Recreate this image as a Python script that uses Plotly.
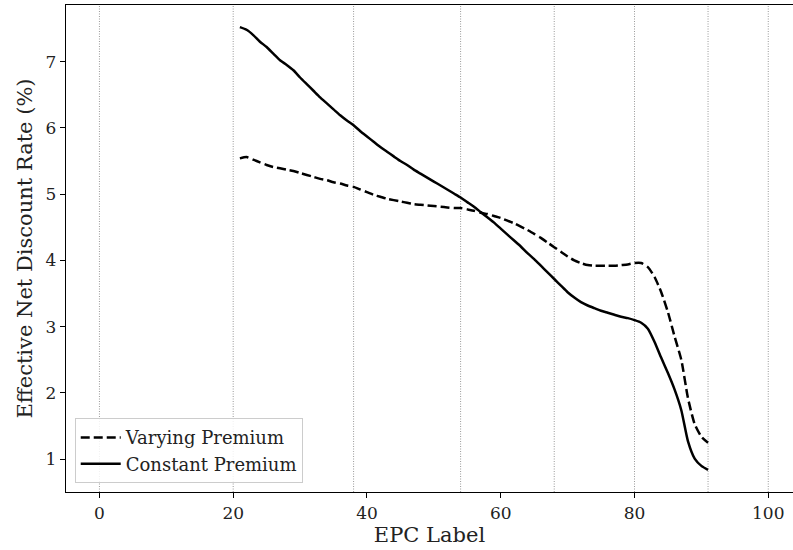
import plotly.graph_objects as go

# EPC score (integer label) for each point on the curves
epc = list(range(21, 92))

# Effective net discount rate (%) under a premium that varies with EPC
varying_premium = [
    5.54, 5.56, 5.52, 5.48, 5.44, 5.41, 5.39, 5.37, 5.35, 5.32,
    5.29, 5.26, 5.23, 5.21, 5.18, 5.16, 5.13, 5.11, 5.07, 5.03,
    4.99, 4.96, 4.93, 4.91, 4.89, 4.87, 4.85, 4.84, 4.83, 4.82,
    4.81, 4.80, 4.79, 4.79, 4.77, 4.75, 4.72, 4.70, 4.67, 4.64,
    4.60, 4.56, 4.51, 4.46, 4.40, 4.34, 4.27, 4.20, 4.13, 4.06,
    4.00, 3.96, 3.93, 3.92, 3.92, 3.92, 3.92, 3.93, 3.94, 3.96,
    3.96, 3.90, 3.75, 3.52, 3.22, 2.85, 2.50, 1.92, 1.53, 1.34,
    1.25,
]

# Effective net discount rate (%) under a constant premium
constant_premium = [
    7.52, 7.48, 7.40, 7.30, 7.22, 7.12, 7.02, 6.95, 6.87, 6.76,
    6.66, 6.56, 6.46, 6.37, 6.28, 6.19, 6.11, 6.04, 5.95, 5.87,
    5.79, 5.71, 5.64, 5.57, 5.50, 5.44, 5.37, 5.31, 5.25, 5.19,
    5.13, 5.07, 5.01, 4.95, 4.88, 4.81, 4.73, 4.65, 4.57, 4.48,
    4.39, 4.30, 4.21, 4.11, 4.02, 3.92, 3.82, 3.72, 3.62, 3.52,
    3.44, 3.37, 3.32, 3.28, 3.24, 3.21, 3.18, 3.15, 3.13, 3.10,
    3.06, 2.97, 2.77, 2.53, 2.30, 2.05, 1.74, 1.27, 1.01, 0.90,
    0.84,
]

# EPC band boundaries (G/F/E/D/C/B/A)
band_edges = [0, 20, 38, 54, 68, 80, 91, 100]

x_ticks = [0, 20, 40, 60, 80, 100]
y_ticks = [1, 2, 3, 4, 5, 6, 7]

FONT = "DejaVu Serif"

fig = go.Figure()

fig.add_trace(go.Scatter(
    x=epc, y=varying_premium, mode="lines", name="Varying Premium",
    line=dict(color="black", width=2.5, dash="9px,4px", shape="spline", smoothing=0.6),
))
fig.add_trace(go.Scatter(
    x=epc, y=constant_premium, mode="lines", name="Constant Premium",
    line=dict(color="black", width=2.5, shape="spline", smoothing=0.6),
))

for edge in band_edges:
    fig.add_shape(
        type="line", xref="x", yref="paper", x0=edge, x1=edge, y0=0, y1=1,
        line=dict(color="#999999", width=1, dash="1px,1.5px"), layer="below",
    )

fig.update_layout(
    width=793, height=550,
    margin=dict(l=66, r=0, t=5, b=58),
    paper_bgcolor="white", plot_bgcolor="white",
    font=dict(family=FONT, color="#222", size=16),
    showlegend=True,
    legend=dict(
        x=0.012, y=0.018, xanchor="left", yanchor="bottom",
        bgcolor="rgba(255,255,255,0.85)", bordercolor="#cccccc", borderwidth=1,
        font=dict(family=FONT, size=18, color="#222"),
        tracegroupgap=0, itemwidth=40,
    ),
)

fig.update_xaxes(
    range=[-5, 103.7], tickmode="array", tickvals=x_ticks,
    ticks="outside", ticklen=5, tickwidth=1.2, tickcolor="black",
    showline=True, linecolor="black", linewidth=1.3, mirror=True,
    showgrid=False, zeroline=False,
    tickfont=dict(family=FONT, size=17, color="#222"),
    title=dict(text="EPC Label", font=dict(family=FONT, size=21, color="#222"), standoff=4),
)
fig.update_yaxes(
    range=[0.506, 7.854], tickmode="array", tickvals=y_ticks,
    ticks="outside", ticklen=5, tickwidth=1.2, tickcolor="black",
    showline=True, linecolor="black", linewidth=1.3, mirror=False,
    showgrid=False, zeroline=False,
    tickfont=dict(family=FONT, size=17, color="#222"),
    title=dict(text="Effective Net Discount Rate (%)", font=dict(family=FONT, size=21, color="#222"), standoff=7),
)

fig.write_html("out.html")
